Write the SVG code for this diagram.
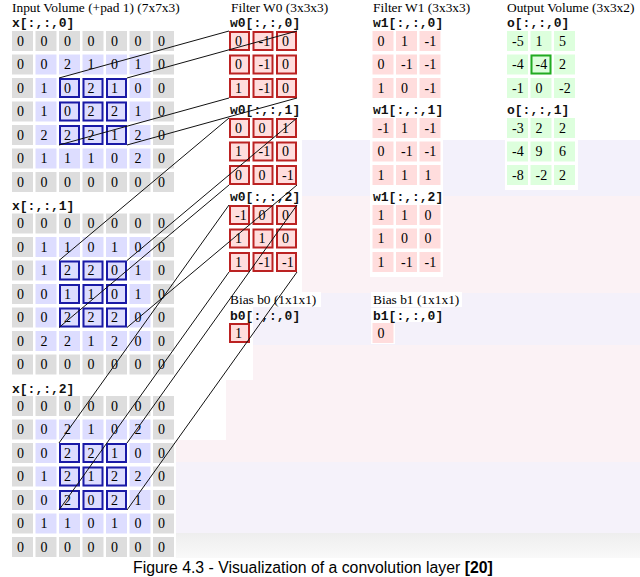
<svg xmlns="http://www.w3.org/2000/svg" width="640" height="577" viewBox="0 0 640 577">
<style>
.t{font-family:"Liberation Serif",serif;font-size:14px;fill:#000}
.h{font-family:"Liberation Serif",serif;font-size:13.4px;fill:#000}
.m{font-family:"Liberation Mono",monospace;font-size:13px;font-weight:bold;fill:#111}
.cap{font-family:"Liberation Sans",Arial,sans-serif;font-size:15.8px;fill:#000}
.pad{fill:#dddddd}
.in{fill:#ddddff}
.hl{fill:none;stroke:#1a1aa6;stroke-width:2}
.fw{fill:#ffdddd;stroke:#bb2222;stroke-width:2}
.fp{fill:#ffdddd}
.og{fill:#ddffdd}
.oh{fill:none;stroke:#22aa22;stroke-width:2}
.wb{fill:#ffffff}
.conn line{stroke:#111;stroke-width:1}
</style>
<defs>
<linearGradient id="gband" x1="0" y1="0" x2="0" y2="1">
<stop offset="0" stop-color="#eeeeee"/>
<stop offset="1" stop-color="#f9f9f9"/>
</linearGradient>
<g id="ingrid">
<rect class="pad" x="0" y="0" width="21" height="20"/><rect class="pad" x="23.5" y="0" width="21" height="20"/><rect class="pad" x="47" y="0" width="21" height="20"/><rect class="pad" x="70.5" y="0" width="21" height="20"/><rect class="pad" x="94" y="0" width="21" height="20"/><rect class="pad" x="117.5" y="0" width="21" height="20"/><rect class="pad" x="141" y="0" width="21" height="20"/>
<rect class="pad" x="0" y="141" width="21" height="20"/><rect class="pad" x="23.5" y="141" width="21" height="20"/><rect class="pad" x="47" y="141" width="21" height="20"/><rect class="pad" x="70.5" y="141" width="21" height="20"/><rect class="pad" x="94" y="141" width="21" height="20"/><rect class="pad" x="117.5" y="141" width="21" height="20"/><rect class="pad" x="141" y="141" width="21" height="20"/>
<rect class="pad" x="0" y="23.5" width="21" height="20"/><rect class="pad" x="0" y="47" width="21" height="20"/><rect class="pad" x="0" y="70.5" width="21" height="20"/><rect class="pad" x="0" y="94" width="21" height="20"/><rect class="pad" x="0" y="117.5" width="21" height="20"/>
<rect class="pad" x="141" y="23.5" width="21" height="20"/><rect class="pad" x="141" y="47" width="21" height="20"/><rect class="pad" x="141" y="70.5" width="21" height="20"/><rect class="pad" x="141" y="94" width="21" height="20"/><rect class="pad" x="141" y="117.5" width="21" height="20"/>
<rect class="in" x="23.5" y="23.5" width="21" height="20"/><rect class="in" x="47" y="23.5" width="21" height="20"/><rect class="in" x="70.5" y="23.5" width="21" height="20"/><rect class="in" x="94" y="23.5" width="21" height="20"/><rect class="in" x="117.5" y="23.5" width="21" height="20"/>
<rect class="in" x="23.5" y="47" width="21" height="20"/><rect class="in" x="47" y="47" width="21" height="20"/><rect class="in" x="70.5" y="47" width="21" height="20"/><rect class="in" x="94" y="47" width="21" height="20"/><rect class="in" x="117.5" y="47" width="21" height="20"/>
<rect class="in" x="23.5" y="70.5" width="21" height="20"/><rect class="in" x="47" y="70.5" width="21" height="20"/><rect class="in" x="70.5" y="70.5" width="21" height="20"/><rect class="in" x="94" y="70.5" width="21" height="20"/><rect class="in" x="117.5" y="70.5" width="21" height="20"/>
<rect class="in" x="23.5" y="94" width="21" height="20"/><rect class="in" x="47" y="94" width="21" height="20"/><rect class="in" x="70.5" y="94" width="21" height="20"/><rect class="in" x="94" y="94" width="21" height="20"/><rect class="in" x="117.5" y="94" width="21" height="20"/>
<rect class="in" x="23.5" y="117.5" width="21" height="20"/><rect class="in" x="47" y="117.5" width="21" height="20"/><rect class="in" x="70.5" y="117.5" width="21" height="20"/><rect class="in" x="94" y="117.5" width="21" height="20"/><rect class="in" x="117.5" y="117.5" width="21" height="20"/>
<rect class="hl" x="48" y="48" width="19" height="18"/><rect class="hl" x="71.5" y="48" width="19" height="18"/><rect class="hl" x="95" y="48" width="19" height="18"/>
<rect class="hl" x="48" y="71.5" width="19" height="18"/><rect class="hl" x="71.5" y="71.5" width="19" height="18"/><rect class="hl" x="95" y="71.5" width="19" height="18"/>
<rect class="hl" x="48" y="95" width="19" height="18"/><rect class="hl" x="71.5" y="95" width="19" height="18"/><rect class="hl" x="95" y="95" width="19" height="18"/>
</g>
<g id="f3">
<rect class="fw" x="1" y="1" width="19" height="18"/><rect class="fw" x="24.5" y="1" width="19" height="18"/><rect class="fw" x="48" y="1" width="19" height="18"/>
<rect class="fw" x="1" y="24.5" width="19" height="18"/><rect class="fw" x="24.5" y="24.5" width="19" height="18"/><rect class="fw" x="48" y="24.5" width="19" height="18"/>
<rect class="fw" x="1" y="48" width="19" height="18"/><rect class="fw" x="24.5" y="48" width="19" height="18"/><rect class="fw" x="48" y="48" width="19" height="18"/>
</g>
<g id="p3">
<rect class="fp" x="0" y="0" width="21" height="20"/><rect class="fp" x="23.5" y="0" width="21" height="20"/><rect class="fp" x="47" y="0" width="21" height="20"/>
<rect class="fp" x="0" y="23.5" width="21" height="20"/><rect class="fp" x="23.5" y="23.5" width="21" height="20"/><rect class="fp" x="47" y="23.5" width="21" height="20"/>
<rect class="fp" x="0" y="47" width="21" height="20"/><rect class="fp" x="23.5" y="47" width="21" height="20"/><rect class="fp" x="47" y="47" width="21" height="20"/>
</g>
<g id="g3">
<rect class="og" x="0" y="0" width="21" height="20"/><rect class="og" x="23.5" y="0" width="21" height="20"/><rect class="og" x="47" y="0" width="21" height="20"/>
<rect class="og" x="0" y="23.5" width="21" height="20"/><rect class="og" x="23.5" y="23.5" width="21" height="20"/><rect class="og" x="47" y="23.5" width="21" height="20"/>
<rect class="og" x="0" y="47" width="21" height="20"/><rect class="og" x="23.5" y="47" width="21" height="20"/><rect class="og" x="47" y="47" width="21" height="20"/>
</g>
</defs>
<rect x="0" y="0" width="640" height="577" fill="#ffffff"/>
<g id="background">
<rect x="302" y="140" width="338" height="56" fill="#f3f1fb"/>
<rect x="302" y="196" width="338" height="97" fill="#fbf2f5"/>
<rect x="253" y="293" width="387" height="52" fill="#f4f1fa"/>
<rect x="253" y="345" width="387" height="117" fill="#fbf2f5"/>
<rect x="226" y="380" width="27" height="82" fill="#fbf2f5"/>
<rect x="176" y="440" width="50" height="22" fill="#fbf2f5"/>
<rect x="176" y="462" width="464" height="71" fill="#f5f2fa"/>
<rect x="176" y="533" width="464" height="25" fill="url(#gband)"/>
<rect class="wb" x="370" y="140" width="73" height="50"/>
<rect class="wb" x="370" y="190" width="73" height="87"/>
<rect class="wb" x="505" y="140" width="73" height="50"/>
<rect class="wb" x="371" y="292" width="91" height="15"/>
<rect class="wb" x="371" y="308" width="70" height="14"/>
<rect class="wb" x="371" y="322" width="24" height="22"/>
<rect class="wb" x="228" y="292" width="93" height="15"/>
</g>
<g id="input-volume">
<text class="h" x="12" y="12">Input Volume (+pad 1) (7x7x3)</text>
</g>
<g id="x0" transform="translate(12,31)">
<use href="#ingrid"/>
<text class="m" x="0" y="-4">x[:,:,0]</text>
<text class="t" x="5" y="14.5">0</text><text class="t" x="28.5" y="14.5">0</text><text class="t" x="52" y="14.5">0</text><text class="t" x="75.5" y="14.5">0</text><text class="t" x="99" y="14.5">0</text><text class="t" x="122.5" y="14.5">0</text><text class="t" x="146" y="14.5">0</text>
<text class="t" x="5" y="38">0</text><text class="t" x="28.5" y="38">0</text><text class="t" x="52" y="38">2</text><text class="t" x="75.5" y="38">1</text><text class="t" x="99" y="38">0</text><text class="t" x="122.5" y="38">1</text><text class="t" x="146" y="38">0</text>
<text class="t" x="5" y="61.5">0</text><text class="t" x="28.5" y="61.5">1</text><text class="t" x="52" y="61.5">0</text><text class="t" x="75.5" y="61.5">2</text><text class="t" x="99" y="61.5">1</text><text class="t" x="122.5" y="61.5">0</text><text class="t" x="146" y="61.5">0</text>
<text class="t" x="5" y="85">0</text><text class="t" x="28.5" y="85">1</text><text class="t" x="52" y="85">0</text><text class="t" x="75.5" y="85">2</text><text class="t" x="99" y="85">2</text><text class="t" x="122.5" y="85">1</text><text class="t" x="146" y="85">0</text>
<text class="t" x="5" y="108.5">0</text><text class="t" x="28.5" y="108.5">2</text><text class="t" x="52" y="108.5">2</text><text class="t" x="75.5" y="108.5">2</text><text class="t" x="99" y="108.5">1</text><text class="t" x="122.5" y="108.5">2</text><text class="t" x="146" y="108.5">0</text>
<text class="t" x="5" y="132">0</text><text class="t" x="28.5" y="132">1</text><text class="t" x="52" y="132">1</text><text class="t" x="75.5" y="132">1</text><text class="t" x="99" y="132">0</text><text class="t" x="122.5" y="132">2</text><text class="t" x="146" y="132">0</text>
<text class="t" x="5" y="155.5">0</text><text class="t" x="28.5" y="155.5">0</text><text class="t" x="52" y="155.5">0</text><text class="t" x="75.5" y="155.5">0</text><text class="t" x="99" y="155.5">0</text><text class="t" x="122.5" y="155.5">0</text><text class="t" x="146" y="155.5">0</text>
</g>
<g id="x1" transform="translate(12,213.5)">
<use href="#ingrid"/>
<text class="m" x="0" y="-4">x[:,:,1]</text>
<text class="t" x="5" y="14.5">0</text><text class="t" x="28.5" y="14.5">0</text><text class="t" x="52" y="14.5">0</text><text class="t" x="75.5" y="14.5">0</text><text class="t" x="99" y="14.5">0</text><text class="t" x="122.5" y="14.5">0</text><text class="t" x="146" y="14.5">0</text>
<text class="t" x="5" y="38">0</text><text class="t" x="28.5" y="38">1</text><text class="t" x="52" y="38">1</text><text class="t" x="75.5" y="38">0</text><text class="t" x="99" y="38">1</text><text class="t" x="122.5" y="38">0</text><text class="t" x="146" y="38">0</text>
<text class="t" x="5" y="61.5">0</text><text class="t" x="28.5" y="61.5">1</text><text class="t" x="52" y="61.5">2</text><text class="t" x="75.5" y="61.5">2</text><text class="t" x="99" y="61.5">0</text><text class="t" x="122.5" y="61.5">1</text><text class="t" x="146" y="61.5">0</text>
<text class="t" x="5" y="85">0</text><text class="t" x="28.5" y="85">0</text><text class="t" x="52" y="85">1</text><text class="t" x="75.5" y="85">1</text><text class="t" x="99" y="85">0</text><text class="t" x="122.5" y="85">1</text><text class="t" x="146" y="85">0</text>
<text class="t" x="5" y="108.5">0</text><text class="t" x="28.5" y="108.5">0</text><text class="t" x="52" y="108.5">2</text><text class="t" x="75.5" y="108.5">2</text><text class="t" x="99" y="108.5">2</text><text class="t" x="122.5" y="108.5">0</text><text class="t" x="146" y="108.5">0</text>
<text class="t" x="5" y="132">0</text><text class="t" x="28.5" y="132">2</text><text class="t" x="52" y="132">2</text><text class="t" x="75.5" y="132">1</text><text class="t" x="99" y="132">2</text><text class="t" x="122.5" y="132">0</text><text class="t" x="146" y="132">0</text>
<text class="t" x="5" y="155.5">0</text><text class="t" x="28.5" y="155.5">0</text><text class="t" x="52" y="155.5">0</text><text class="t" x="75.5" y="155.5">0</text><text class="t" x="99" y="155.5">0</text><text class="t" x="122.5" y="155.5">0</text><text class="t" x="146" y="155.5">0</text>
</g>
<g id="x2" transform="translate(12,396)">
<use href="#ingrid"/>
<text class="m" x="0" y="-3.5">x[:,:,2]</text>
<text class="t" x="5" y="14.5">0</text><text class="t" x="28.5" y="14.5">0</text><text class="t" x="52" y="14.5">0</text><text class="t" x="75.5" y="14.5">0</text><text class="t" x="99" y="14.5">0</text><text class="t" x="122.5" y="14.5">0</text><text class="t" x="146" y="14.5">0</text>
<text class="t" x="5" y="38">0</text><text class="t" x="28.5" y="38">0</text><text class="t" x="52" y="38">2</text><text class="t" x="75.5" y="38">1</text><text class="t" x="99" y="38">0</text><text class="t" x="122.5" y="38">2</text><text class="t" x="146" y="38">0</text>
<text class="t" x="5" y="61.5">0</text><text class="t" x="28.5" y="61.5">0</text><text class="t" x="52" y="61.5">2</text><text class="t" x="75.5" y="61.5">2</text><text class="t" x="99" y="61.5">1</text><text class="t" x="122.5" y="61.5">0</text><text class="t" x="146" y="61.5">0</text>
<text class="t" x="5" y="85">0</text><text class="t" x="28.5" y="85">1</text><text class="t" x="52" y="85">2</text><text class="t" x="75.5" y="85">1</text><text class="t" x="99" y="85">2</text><text class="t" x="122.5" y="85">2</text><text class="t" x="146" y="85">0</text>
<text class="t" x="5" y="108.5">0</text><text class="t" x="28.5" y="108.5">0</text><text class="t" x="52" y="108.5">2</text><text class="t" x="75.5" y="108.5">0</text><text class="t" x="99" y="108.5">2</text><text class="t" x="122.5" y="108.5">1</text><text class="t" x="146" y="108.5">0</text>
<text class="t" x="5" y="132">0</text><text class="t" x="28.5" y="132">1</text><text class="t" x="52" y="132">1</text><text class="t" x="75.5" y="132">0</text><text class="t" x="99" y="132">1</text><text class="t" x="122.5" y="132">0</text><text class="t" x="146" y="132">0</text>
<text class="t" x="5" y="155.5">0</text><text class="t" x="28.5" y="155.5">0</text><text class="t" x="52" y="155.5">0</text><text class="t" x="75.5" y="155.5">0</text><text class="t" x="99" y="155.5">0</text><text class="t" x="122.5" y="155.5">0</text><text class="t" x="146" y="155.5">0</text>
</g>
<g id="filter-w0">
<text class="h" x="231" y="12">Filter W0 (3x3x3)</text>
</g>
<g id="w0-0" transform="translate(229,31)">
<use href="#f3"/>
<text class="m" x="1" y="-4">w0[:,:,0]</text>
<text class="t" x="6" y="14.5">0</text><text class="t" x="29.5" y="14.5">-1</text><text class="t" x="53" y="14.5">0</text>
<text class="t" x="6" y="38">0</text><text class="t" x="29.5" y="38">-1</text><text class="t" x="53" y="38">0</text>
<text class="t" x="6" y="61.5">1</text><text class="t" x="29.5" y="61.5">-1</text><text class="t" x="53" y="61.5">0</text>
</g>
<g id="w0-1" transform="translate(229,118)">
<use href="#f3"/>
<text class="m" x="1" y="-4">w0[:,:,1]</text>
<text class="t" x="6" y="14.5">0</text><text class="t" x="29.5" y="14.5">0</text><text class="t" x="53" y="14.5">1</text>
<text class="t" x="6" y="38">1</text><text class="t" x="29.5" y="38">-1</text><text class="t" x="53" y="38">0</text>
<text class="t" x="6" y="61.5">0</text><text class="t" x="29.5" y="61.5">0</text><text class="t" x="53" y="61.5">-1</text>
</g>
<g id="w0-2" transform="translate(229,205)">
<use href="#f3"/>
<text class="m" x="1" y="-4">w0[:,:,2]</text>
<text class="t" x="6" y="14.5">-1</text><text class="t" x="29.5" y="14.5">0</text><text class="t" x="53" y="14.5">0</text>
<text class="t" x="6" y="38">1</text><text class="t" x="29.5" y="38">1</text><text class="t" x="53" y="38">0</text>
<text class="t" x="6" y="61.5">1</text><text class="t" x="29.5" y="61.5">-1</text><text class="t" x="53" y="61.5">-1</text>
</g>
<g id="bias-b0">
<text class="h" x="230" y="304">Bias b0 (1x1x1)</text>
<text class="m" x="230" y="320">b0[:,:,0]</text>
<rect class="fw" x="230" y="324" width="19" height="18"/>
<text class="t" x="235" y="337.5">1</text>
</g>
<g id="filter-w1">
<text class="h" x="373" y="12">Filter W1 (3x3x3)</text>
</g>
<g id="w1-0" transform="translate(372.5,31)">
<use href="#p3"/>
<text class="m" x="0.5" y="-4">w1[:,:,0]</text>
<text class="t" x="5" y="14.5">0</text><text class="t" x="28.5" y="14.5">1</text><text class="t" x="52" y="14.5">-1</text>
<text class="t" x="5" y="38">0</text><text class="t" x="28.5" y="38">-1</text><text class="t" x="52" y="38">-1</text>
<text class="t" x="5" y="61.5">1</text><text class="t" x="28.5" y="61.5">0</text><text class="t" x="52" y="61.5">-1</text>
</g>
<g id="w1-1" transform="translate(372.5,118)">
<use href="#p3"/>
<text class="m" x="0.5" y="-4">w1[:,:,1]</text>
<text class="t" x="5" y="14.5">-1</text><text class="t" x="28.5" y="14.5">1</text><text class="t" x="52" y="14.5">-1</text>
<text class="t" x="5" y="38">0</text><text class="t" x="28.5" y="38">-1</text><text class="t" x="52" y="38">-1</text>
<text class="t" x="5" y="61.5">1</text><text class="t" x="28.5" y="61.5">1</text><text class="t" x="52" y="61.5">1</text>
</g>
<g id="w1-2" transform="translate(372.5,205)">
<use href="#p3"/>
<text class="m" x="0.5" y="-4">w1[:,:,2]</text>
<text class="t" x="5" y="14.5">1</text><text class="t" x="28.5" y="14.5">1</text><text class="t" x="52" y="14.5">0</text>
<text class="t" x="5" y="38">1</text><text class="t" x="28.5" y="38">0</text><text class="t" x="52" y="38">0</text>
<text class="t" x="5" y="61.5">1</text><text class="t" x="28.5" y="61.5">-1</text><text class="t" x="52" y="61.5">-1</text>
</g>
<g id="bias-b1">
<text class="h" x="373" y="304">Bias b1 (1x1x1)</text>
<text class="m" x="373" y="320">b1[:,:,0]</text>
<rect class="fp" x="372.5" y="323" width="21" height="20"/>
<text class="t" x="377.5" y="337.5">0</text>
</g>
<g id="output-volume">
<text class="h" x="507" y="12">Output Volume (3x3x2)</text>
</g>
<g id="o-0" transform="translate(507,31)">
<use href="#g3"/>
<rect class="oh" x="24.5" y="24.5" width="19" height="18"/>
<text class="m" x="0" y="-4">o[:,:,0]</text>
<text class="t" x="5" y="14.5">-5</text><text class="t" x="28.5" y="14.5">1</text><text class="t" x="52" y="14.5">5</text>
<text class="t" x="5" y="38">-4</text><text class="t" x="28.5" y="38">-4</text><text class="t" x="52" y="38">2</text>
<text class="t" x="5" y="61.5">-1</text><text class="t" x="28.5" y="61.5">0</text><text class="t" x="52" y="61.5">-2</text>
</g>
<g id="o-1" transform="translate(507,118)">
<use href="#g3"/>
<text class="m" x="0" y="-4">o[:,:,1]</text>
<text class="t" x="5" y="14.5">-3</text><text class="t" x="28.5" y="14.5">2</text><text class="t" x="52" y="14.5">2</text>
<text class="t" x="5" y="38">-4</text><text class="t" x="28.5" y="38">9</text><text class="t" x="52" y="38">6</text>
<text class="t" x="5" y="61.5">-8</text><text class="t" x="28.5" y="61.5">-2</text><text class="t" x="52" y="61.5">2</text>
</g>
<g id="connectors" class="conn">
<line x1="59" y1="78" x2="229" y2="31"/>
<line x1="127" y1="78" x2="297" y2="31"/>
<line x1="59" y1="145" x2="229" y2="98"/>
<line x1="127" y1="145" x2="297" y2="98"/>
<line x1="59" y1="260.5" x2="229" y2="118"/>
<line x1="127" y1="260.5" x2="297" y2="118"/>
<line x1="59" y1="327.5" x2="229" y2="185"/>
<line x1="127" y1="327.5" x2="297" y2="185"/>
<line x1="59" y1="443" x2="229" y2="205"/>
<line x1="127" y1="443" x2="297" y2="205"/>
<line x1="59" y1="510" x2="229" y2="272"/>
<line x1="127" y1="510" x2="297" y2="272"/>
</g>
<g id="caption">
<text class="cap" x="133" y="573">Figure 4.3 - Visualization of a convolution layer <tspan font-weight="bold">[20]</tspan></text>
</g>
</svg>
